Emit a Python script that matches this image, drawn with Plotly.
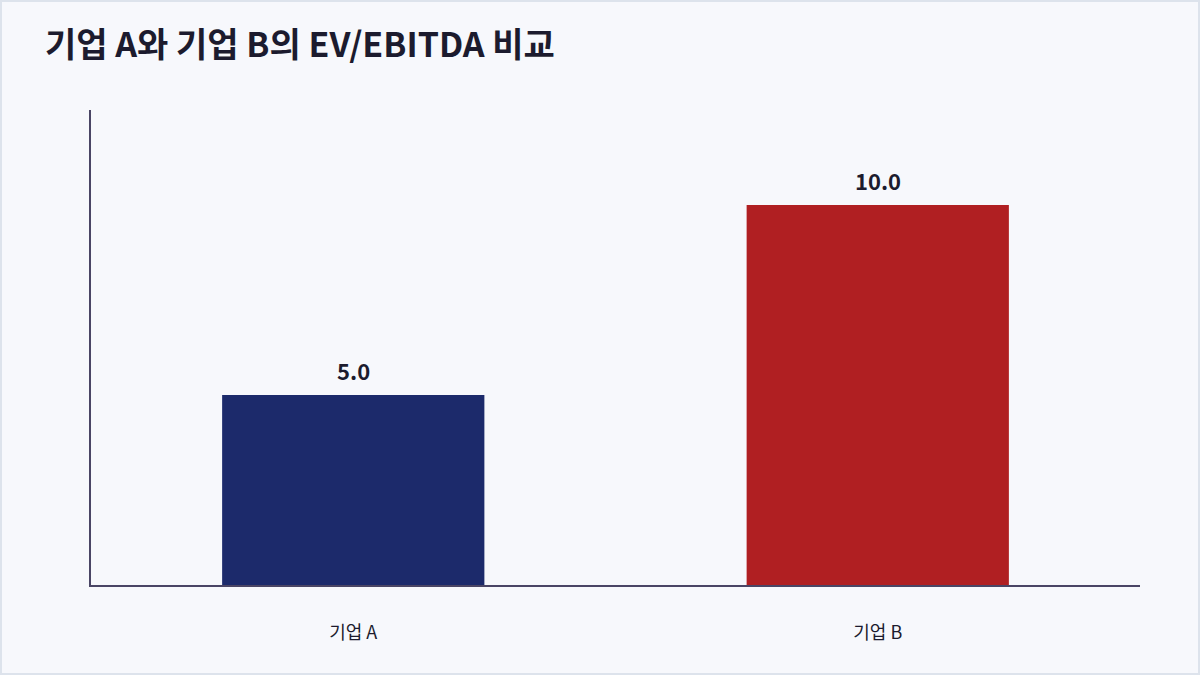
import plotly.graph_objects as go

# data
companies = ["기업 A", "기업 B"]
ev_ebitda = [5.0, 10.0]
bar_colors = ["#1c2a6b", "#b01f22"]
title_text = "기업 A와 기업 B의 EV/EBITDA 비교"

W, H = 1200, 675
ML, MR, MT, MB = 91, 60, 110, 90
pw, ph = W - ML - MR, H - MT - MB
FONT = "Noto Sans CJK KR"
INK = "#1c1b2e"

fig = go.Figure(
    go.Bar(
        x=companies,
        y=ev_ebitda,
        marker=dict(color=bar_colors, line=dict(width=0)),
        hoverinfo="skip",
    )
)

# value labels above the bars
for name, val in zip(companies, ev_ebitda):
    fig.add_annotation(
        x=name, y=val, text=f"{val:.1f}",
        showarrow=False, yanchor="middle", yshift=25,
        font=dict(size=22, color=INK, family=FONT, weight="bold"),
    )

# thin frame round the whole page
fig.add_shape(
    type="rect",
    xref="paper", yref="paper",
    x0=(1 - ML) / pw, x1=(W - 1 - ML) / pw,
    y0=-(MB - 1) / ph, y1=(H - 1 - MB) / ph,
    line=dict(color="#dde3ec", width=2),
    fillcolor="rgba(0,0,0,0)",
    layer="below",
)

fig.update_layout(
    width=W, height=H,
    margin=dict(l=ML, r=MR, t=MT, b=MB),
    paper_bgcolor="#f7f8fc",
    plot_bgcolor="#f7f8fc",
    font=dict(family=FONT, color=INK),
    title=dict(
        text=title_text,
        x=45 / W, xanchor="left",
        y=1 - 45 / H, yanchor="middle",
        font=dict(size=34, weight="bold", color=INK),
    ),
    bargap=0.5,
    showlegend=False,
    xaxis=dict(
        showgrid=False, zeroline=False,
        showline=True, linecolor="#4a4565", linewidth=2,
        ticks="", tickfont=dict(size=18),
        ticklabelstandoff=30,
    ),
    yaxis=dict(
        range=[0, 12.5],
        showgrid=False, zeroline=False,
        showline=True, linecolor="#4a4565", linewidth=2,
        showticklabels=False, ticks="",
    ),
)

fig.write_html(
    "out.html",
    config={"displayModeBar": False},
    post_script="document.body.style.margin='0';",
)
